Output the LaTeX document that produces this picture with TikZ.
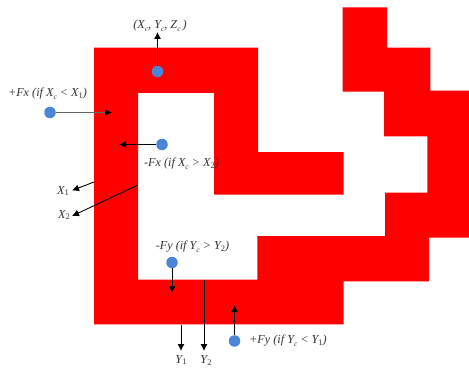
\documentclass[tikz,border=0pt]{standalone}
\usepackage{fontspec}
\setmainfont{Liberation Serif}
\usetikzlibrary{arrows.meta}
\definecolor{dotblue}{RGB}{74,134,216}
\definecolor{wallred}{RGB}{255,0,0}
\newcommand{\sbs}[1]{\raisebox{-0.35ex}{\fontsize{8.5}{9}\selectfont\upshape #1}}
\newcommand{\csb}{\raisebox{-0.4ex}{\fontsize{7.5}{8}\selectfont c}}
\tikzset{
  wall/.style={fill=wallred,draw=none},
  forcedot/.style={circle,fill=dotblue,draw=none,inner sep=0pt,minimum size=11.5pt},
  lbl/.style={inner sep=0pt,font=\fontsize{12.2}{14}\selectfont\itshape,text=black!80},
  arr/.style={draw=black,line width=0.9pt,-{Latex[length=7pt,width=7pt]}},
  grayarr/.style={draw=black!60,line width=1pt,-{Latex[length=7pt,width=7pt,color=black]}}
}
\begin{document}
\begin{tikzpicture}[x=1pt,y=-1pt]
\useasboundingbox (0,0) rectangle (469,369);
\fill[wall] (94,47.7) -- (258,47.7) -- (258,152) -- (343.5,152) -- (343.5,194.5) -- (214,194.5) -- (214,93) -- (138,93) -- (138,279.5) -- (257.3,279.5) -- (257.3,236) -- (385,236) -- (385,192.7) -- (427.3,192.7) -- (427.3,136.3) -- (384,136.3) -- (384,91.7) -- (342.7,91.7) -- (342.7,7.3) -- (387,7.3) -- (387,47.7) -- (430.3,47.7) -- (430.3,90.7) -- (469,90.7) -- (469,237.7) -- (429,237.7) -- (429,281.3) -- (343.5,281.3) -- (343.5,324.3) -- (94,324.3) -- cycle;
% dots
\node[forcedot] (dc) at (157.5,71.5) {};
\node[forcedot] (da) at (50,112.5) {};
\node[forcedot] (db) at (162,144.5) {};
\node[forcedot] (dd) at (172,262.5) {};
\node[forcedot] (de) at (234.5,341) {};
% free ends
\coordinate (ec) at (157.5,32);
\coordinate (ea) at (112,112.5);
\coordinate (eb) at (119,144.5);
\coordinate (ed) at (172,293);
\coordinate (ee) at (234.5,305);
\coordinate (sx1) at (94,182);
\coordinate (ex1) at (72,190.5);
\coordinate (sx2) at (138,185);
\coordinate (ex2) at (72,216);
\coordinate (sy1) at (181,325);
\coordinate (ey1) at (181,351);
\coordinate (sy2) at (204,279.5);
\coordinate (ey2) at (204,351);
% connectors
\draw[arr] (dc) -- (ec);
\draw[grayarr] (da) -- (ea);
\draw[arr] (db) -- (eb);
\draw[arr] (dd) -- (ed);
\draw[arr] (de) -- (ee);
\draw[arr] (sx1) -- (ex1);
\draw[arr] (sx2) -- (ex2);
\draw[arr] (sy1) -- (ey1);
\draw[arr] (sy2) -- (ey2);
% labels
\node[lbl] (lc) at (160,26) {(X\csb, Y\csb, Z\csb\,)};
\node[lbl] (la) at (47.5,94) {+Fx (if X\csb{} < X\sbs{1})};
\node[lbl] (lb) at (181.5,164) {-Fx (if X\csb{} > X\sbs{2})};
\node[lbl] (lx1) at (63,191) {X\sbs{1}};
\node[lbl] (lx2) at (64,215) {X\sbs{2}};
\node[lbl] (ld) at (192.5,247) {-Fy (if Y\csb{} > Y\sbs{2})};
\node[lbl] (ly1) at (181,360) {Y\sbs{1}};
\node[lbl] (ly2) at (206,360.5) {Y\sbs{2}};
\node[lbl] (le) at (288,341) {+Fy (if Y\csb{} < Y\sbs{1})};
\end{tikzpicture}
\end{document}
